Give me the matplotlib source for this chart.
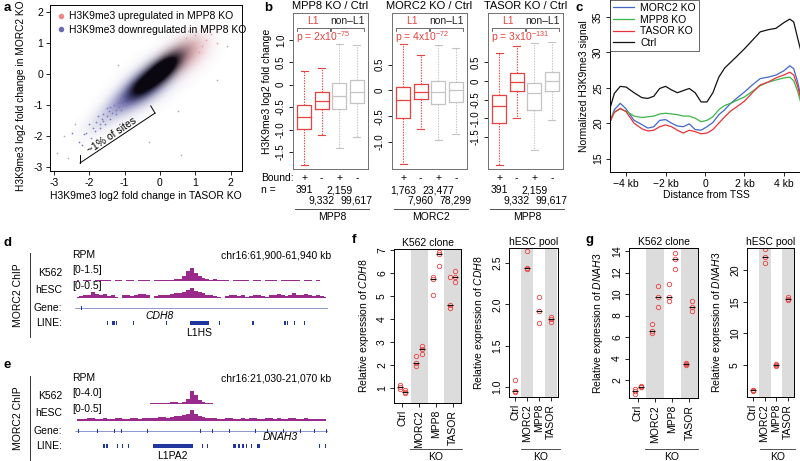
import numpy as np
import matplotlib.pyplot as plt
from matplotlib.lines import Line2D
from matplotlib.transforms import blended_transform_factory as blend

plt.rcParams['font.family'] = ['Liberation Sans', 'DejaVu Sans']
plt.rcParams['font.size'] = 7.5
plt.rcParams['axes.linewidth'] = 0.7
plt.rcParams['axes.unicode_minus'] = False
plt.rcParams['xtick.major.size'] = 3
plt.rcParams['ytick.major.size'] = 3
plt.rcParams['xtick.major.width'] = 0.6
plt.rcParams['ytick.major.width'] = 0.6
plt.rcParams['xtick.major.pad'] = 2
plt.rcParams['ytick.major.pad'] = 2
plt.rcParams['mathtext.fontset'] = 'custom'
plt.rcParams['mathtext.rm'] = 'Liberation Sans'
plt.rcParams['mathtext.it'] = 'Liberation Sans:italic'

RED = '#e8423f'
GRAY = '#c4c4c4'
PURPLE = '#9a2a8c'
NAVY = '#2236a0'

# ---------------- data ----------------
# a: density ridge (x, y, spread along, spread across, weight) and sparse outliers
core_nodes = [(0.0, 0.05, 0.55, 0.2, 1.8), (-0.55, -0.45, 0.3, 0.16, 0.7)]
down_nodes = [(-0.45, -0.4, 0.55, 0.28, 0.85), (-1.1, -0.95, 0.45, 0.22, 0.4),
              (-1.7, -1.55, 0.45, 0.22, 0.14), (0.1, 0.05, 0.9, 0.36, 0.18)]
up_nodes = [(0.65, 0.55, 0.45, 0.3, 0.45), (1.05, 0.9, 0.35, 0.28, 0.15)]
down_x = [-2.3, -2.1, -1.95, -1.8, -1.7, -1.6, -1.55, -1.45, -1.4, -1.3, -1.25, -1.2,
          -1.1, -1.05, -2.0, -1.85, -1.65, -1.5, -1.35, -1.15, -2.5, -2.2, -1.75, -0.95,
          -1.9, -1.6, -1.4, -1.25, -1.0, -2.15, -1.7, -1.5]
down_y = [-2.2, -1.9, -2.05, -1.55, -1.75, -1.3, -1.6, -1.2, -1.45, -1.0, -1.3, -0.95,
          -1.15, -0.8, -1.6, -1.85, -1.45, -1.1, -1.25, -1.05, -1.9, -2.3, -1.35, -1.0,
          -1.75, -1.5, -1.05, -1.15, -0.95, -1.95, -1.6, -1.35]
up_x = [0.9, 1.1, 1.3, 1.45, 0.75, 1.2, 1.0, 1.6]
up_y = [1.0, 0.7, 1.1, 1.3, 1.15, 0.9, 1.25, 1.0]
other_x = [-2.9, -2.6, -2.7, -2.4, -0.3, 0.5, 1.6, 1.9, 1.3, -1.2, 0.6, 0.8]
other_y = [-2.55, -2.7, -2.0, -1.6, -2.2, -1.2, -0.2, 0.9, 1.5, 0.3, -2.6, 1.4]

# b: boxplot summaries (4 groups: L1 bound, L1 unbound, non-L1 bound, non-L1 unbound)
b_titles = ['MPP8 KO / Ctrl', 'MORC2 KO / Ctrl', 'TASOR KO / Ctrl']
b_pvals = [r'p = 2x10$^{-75}$', r'p = 4x10$^{-72}$', r'p = 3x10$^{-131}$']
b_factor = ['MPP8', 'MORC2', 'MPP8']
b_counts = [[391, 9332, 2159, 99617], [1763, 7960, 23477, 78299], [391, 9332, 2159, 99617]]
b_med = [[-0.71, -0.36, -0.25, -0.16], [-0.19, -0.02, -0.02, 0.0], [-0.66, -0.02, -0.33, 0.0]]
b_q1 = [[-0.98, -0.55, -0.55, -0.40], [-0.54, -0.17, -0.27, -0.23], [-1.12, -0.26, -0.77, -0.26]]
b_q3 = [[-0.46, -0.17, 0.04, 0.11], [0.06, 0.13, 0.19, 0.17], [-0.37, 0.21, -0.05, 0.25]]
b_lo = [[-1.80, -1.12, -1.42, -1.16], [-1.42, -0.75, -0.96, -0.85], [-2.24, -1.0, -1.86, -1.05]]
b_hi = [[0.31, 0.38, 0.91, 0.89], [0.90, 0.69, 0.88, 0.83], [0.75, 0.93, 1.02, 1.03]]
b_ylim = [(-1.88, 1.6), (-1.52, 1.5), (-2.36, 1.82)]
b_yticks = [[-1.5, -1.0, -0.5, 0, 0.5, 1.0], [-1.0, -0.5, 0, 0.5], [-1.5, -1.0, -0.5, 0, 0.5]]

# c: metaprofile around TSS
c_kb = [-4.82, -4.6, -4.3, -4.0, -3.6, -3.2, -2.9, -2.6, -2.3, -2.0, -1.7, -1.4, -1.1, -0.8,
        -0.5, -0.2, 0.1, 0.4, 0.7, 1.0, 1.3, 1.6, 2.0, 2.4, 2.8, 3.2, 3.6, 4.0, 4.3, 4.5, 4.7, 4.9]
c_morc2 = [20.1, 21.9, 22.8, 22.0, 20.4, 19.8, 19.3, 19.5, 20.4, 20.5, 20.0, 19.6, 19.5, 19.9,
           19.1, 19.0, 19.5, 20.1, 21.2, 21.9, 22.8, 23.5, 24.4, 25.4, 26.3, 26.5, 26.8, 27.4,
           28.1, 27.7, 25.8, 23.3]
c_mpp8 = [20.5, 21.6, 22.0, 21.7, 21.0, 20.8, 20.9, 21.0, 21.3, 21.4, 21.3, 21.2, 21.0, 21.0,
          20.7, 20.2, 20.4, 20.9, 21.9, 22.5, 22.8, 23.2, 23.7, 24.5, 25.3, 25.8, 26.1, 26.4,
          26.5, 26.0, 24.5, 22.5]
c_tasor = [20.2, 21.5, 22.1, 21.6, 20.0, 19.2, 18.9, 19.0, 19.5, 19.75, 19.5, 19.0, 18.6, 19.0,
           18.8, 18.5, 18.6, 19.1, 20.0, 20.9, 21.7, 22.3, 23.1, 24.3, 25.4, 25.8, 26.4, 26.8,
           27.2, 26.8, 25.2, 23.0]
c_ctrl = [22.1, 24.2, 25.2, 25.1, 24.3, 23.6, 23.5, 23.8, 24.9, 25.2, 24.7, 24.3, 24.6, 24.9,
          24.3, 23.0, 23.0, 24.3, 26.5, 27.8, 28.6, 29.4, 30.5, 31.7, 32.9, 33.2, 33.4, 34.2,
          34.7, 34.3, 32.0, 29.8]

# d/e: ChIP tracks (percent of track range, 64 bins each)
d_k562 = [4, 3, 5, 4, 3, 4, 9, 6, 4, 3, 5, 4, 3, 4, 5, 3, 4, 6, 4, 3, 4, 5, 6, 5, 7, 12, 18, 35,
          80, 100, 60, 35, 20, 14, 9, 12, 7, 5, 4, 3, 5, 4, 6, 4, 3, 5, 4, 3, 6, 4, 5, 3, 4, 6,
          5, 4, 6, 3, 4, 5, 3, 4, 3, 3]
d_hesc = [12, 18, 22, 28, 50, 35, 25, 30, 18, 22, 12, 0, 22, 28, 18, 24, 30, 35, 22, 0, 18, 24,
          28, 22, 32, 38, 45, 50, 65, 85, 60, 48, 38, 28, 22, 18, 12, 0, 18, 22, 28, 18, 24, 12,
          18, 28, 22, 18, 12, 22, 28, 32, 22, 18, 22, 38, 28, 22, 32, 22, 18, 22, 18, 12]
e_k562 = [3, 2, 3, 2, 3, 2, 3, 2, 3, 2, 3, 2, 3, 2, 3, 2, 3, 2, 3, 5, 4, 6, 8, 10, 14, 12, 10,
          18, 40, 100, 70, 30, 12, 6, 4, 3, 2, 3, 2, 3, 2, 2, 3, 2, 3, 2, 3, 2, 3, 2, 3, 2, 3, 2,
          3, 2, 2, 3, 2, 3, 2, 3, 2, 2]
e_hesc = [15, 20, 18, 22, 25, 20, 18, 22, 20, 15, 22, 25, 18, 20, 22, 25, 20, 22, 28, 25, 22, 30,
          35, 28, 32, 38, 45, 50, 60, 90, 55, 40, 30, 25, 22, 28, 20, 18, 22, 25, 20, 18, 22, 20,
          25, 22, 18, 20, 22, 25, 20, 22, 18, 20, 25, 22, 20, 18, 22, 20, 18, 15, 18, 15]
d_range = (61900, 61940)
e_range = (21030, 21070)
d_exons = [61901.1]
e_exons = [21030.5, 21033.5, 21036.3, 21037.4, 21041.5, 21049.8, 21051.8, 21054.5, 21058.5,
           21060.4, 21062.9, 21065.6, 21067.9, 21069.8]
d_lines = [(61905.0, 0.15), (61905.9, 0.35), (61906.5, 0.2), (61909.1, 0.15), (61914.4, 0.15),
           (61918.2, 3.0), (61922.8, 0.15), (61928.0, 0.3), (61933.1, 0.3), (61933.5, 0.2),
           (61934.7, 0.15), (61936.2, 0.15)]
e_lines = [(21034.4, 0.3), (21034.9, 0.3), (21036.7, 0.15), (21037.5, 0.15), (21038.4, 0.15),
           (21042.3, 6.3), (21050.1, 0.15), (21050.8, 0.15), (21055.0, 0.5), (21055.7, 0.4),
           (21056.4, 0.3), (21057.0, 0.2), (21057.9, 0.15), (21058.8, 0.4), (21068.6, 0.15),
           (21069.6, 0.15)]

# f/g: qPCR relative expression
groups = ['Ctrl', 'MORC2', 'MPP8', 'TASOR']
f_k562_a = [[1.12, 1.04, 0.97], [2.39, 2.10, 1.96], [5.84, 5.73, 5.04], [5.84, 4.61, 4.47]]
f_k562_b = [[0.91, 0.84, 0.77], [2.83, 2.72, 2.48], [6.93, 6.83, 6.32], [6.10, 5.84, 5.62]]
f_hesc = [[1.08, 0.95, 0.94], [2.64, 2.44, 2.43], [2.09, 1.92, 1.77], [1.85, 1.82, 1.79]]
g_k562_a = [[1.16, 1.0, 0.7], [7.21, 6.59, 6.34], [10.93, 9.69, 9.35], [3.55, 3.49, 3.40]]
g_k562_b = [[1.47, 1.38, 1.33], [10.74, 9.69, 8.82], [13.78, 13.22, 12.30], [9.38, 8.82, 8.42]]
g_hesc = [[1.1, 1.0, 0.85], [23.3, 22.1, 21.1], [5.2, 5.0, 4.85], [15.7, 15.5, 15.3]]

# ---------------- layout helpers ----------------
W, H = 800, 461
fig = plt.figure(figsize=(8, 4.61), dpi=100)


def box(l, t, r, b):
    return [l / W, 1 - b / H, (r - l) / W, (b - t) / H]


def ftext(x, y, s, **kw):
    fig.text(x / W, 1 - y / H, s, **kw)


def fline(x0, y0, x1, y1, **kw):
    fig.add_artist(Line2D([x0 / W, x1 / W], [1 - y0 / H, 1 - y1 / H], **kw))


for letter, x, y in [('a', 4, 8), ('b', 264, 8), ('c', 576, 8), ('d', 4, 243),
                     ('e', 4, 365), ('f', 352, 240), ('g', 585, 240)]:
    ftext(x, y, letter, fontsize=9.5, fontweight='bold', va='center')

# ---------------- a ----------------
ax = fig.add_axes(box(50, 5, 242, 171))
xl, yl = (-3.11, 2.32), (-3.13, 2.23)
gx = np.linspace(*xl, 320)
gy = np.linspace(*yl, 320)
GX, GY = np.meshgrid(gx, gy)


def density(nodes):
    d = np.zeros_like(GX)
    c = s = np.sqrt(0.5)
    for x0, y0, sp, sq, w in nodes:
        dx, dy = GX - x0, GY - y0
        d += w * np.exp(-0.5 * (((dx * c + dy * s) / sp) ** 2 + ((-dx * s + dy * c) / sq) ** 2))
    return np.clip(d, 0, 1)


for nodes, rgb in [(down_nodes, (0.33, 0.33, 0.64)), (up_nodes, (0.9, 0.5, 0.52)),
                   (core_nodes, (0.04, 0.03, 0.07))]:
    img = np.zeros(GX.shape + (4,))
    img[..., :3] = rgb
    img[..., 3] = density(nodes)
    ax.imshow(img, extent=[*xl, *yl], origin='lower', aspect='auto', interpolation='bilinear')
ax.scatter(down_x, down_y, s=1.5, color='#7a7ac0', lw=0)
ax.scatter(up_x, up_y, s=1.5, color='#e9a0a0', lw=0)
ax.scatter(other_x, other_y, s=1.5, color='#b0b0b0', lw=0)
ax.plot([-2.26, -0.14], [-2.87, -1.26], color='k', lw=0.7)
ax.plot([-2.26, -2.26], [-2.87, -2.6], color='k', lw=0.7)
ax.plot([-0.14, -0.26], [-1.26, -1.03], color='k', lw=0.7)
ax.text(-1.35, -2.0, '~1% of sites', rotation=34, ha='center', va='center', fontsize=7.5)
ax.set_xlim(xl)
ax.set_ylim(yl)
ax.set_xticks(range(-3, 3))
ax.set_yticks(range(-3, 3))
ax.set_xlabel('H3K9me3 log2 fold change in TASOR KO', labelpad=2)
ftext(21, 96, 'H3K9me3 log2 fold change in MORC2 KO', rotation=90, ha='center', va='center',
      fontsize=7.3)
handles = [Line2D([], [], ls='', marker='o', ms=3, color='#f08a8a'),
           Line2D([], [], ls='', marker='o', ms=3, color='#6b6bb5')]
ax.legend(handles, ['H3K9me3 upregulated in MPP8 KO', 'H3K9me3 downregulated in MPP8 KO'],
          loc='upper left', frameon=False, handletextpad=0.2, handlelength=1.0,
          borderaxespad=0.2, labelspacing=0.35, fontsize=7.5)

# ---------------- b ----------------
b_pos = [(293, 368), (392, 467), (488, 563)]
box_cols = [RED, RED, GRAY, GRAY]
for k, (l, r) in enumerate(b_pos):
    ax = fig.add_axes(box(l, 13, r, 169))
    tr = blend(ax.transData, ax.transAxes)
    for i in range(4):
        st = dict(med=b_med[k][i], q1=b_q1[k][i], q3=b_q3[k][i],
                  whislo=b_lo[k][i], whishi=b_hi[k][i])
        c = box_cols[i]
        ax.bxp([st], positions=[i + 1], widths=0.8, capwidths=0.4, showfliers=False,
               boxprops=dict(color=c, lw=0.9), medianprops=dict(color=c, lw=0.9),
               whiskerprops=dict(color=c, lw=0.8, ls=(0, (1.2, 1.2))),
               capprops=dict(color=c, lw=0.8))
    ax.set_xlim(0.36, 4.64)
    ax.set_ylim(b_ylim[k])
    ax.set_yticks(b_yticks[k])
    ax.set_yticklabels([f'{v:.1f}' if v != 0 else '0' for v in b_yticks[k]],
                       rotation=90, va='center', fontsize=7)
    ax.set_xticks([])
    for sp in ax.spines.values():
        sp.set_color('#707070')
    ax.set_title(b_titles[k], fontsize=8, pad=3)
    # group brackets
    for (x0, x1), lab, col in [((0.6, 2.45), 'L1', RED), ((2.55, 4.4), 'non\u2013L1', '#222222')]:
        ax.plot([x0, x0, x1, x1], [0.885, 0.905, 0.905, 0.885], color='#555555', lw=0.6,
                transform=tr, clip_on=False)
        ax.text((x0 + x1) / 2, 0.948, lab, color=col, ha='center', va='center', transform=tr)
    ax.text(0.55, 0.845, b_pvals[k], color=RED, ha='left', va='center', transform=tr)
    for i in range(4):
        ax.text(i + 1, -0.058, '+' if i % 2 == 0 else '-', ha='center', va='center', transform=tr)
        ax.text(i + 1, -0.135 if i % 2 == 0 else -0.205, f'{b_counts[k][i]:,}',
                ha='center', va='center', transform=tr)
    ax.plot([0.5, 4.7], [-0.256, -0.256], color='#333333', lw=0.6, transform=tr, clip_on=False)
    ax.text(2.6, -0.31, b_factor[k], ha='center', va='center', transform=tr)
ftext(261, 178, 'Bound:', va='center')
ftext(261, 190, 'n =', va='center')
ftext(267, 91, 'H3K9me3 log2 fold change', rotation=90, ha='center', va='center')

# ---------------- c ----------------
ax = fig.add_axes(box(610, 0, 802, 172))
for ys, col, lab in [(c_morc2, '#4565c8', 'MORC2 KO'), (c_mpp8, '#3bb54a', 'MPP8 KO'),
                     (c_tasor, '#e8333a', 'TASOR KO'), (c_ctrl, '#111111', 'Ctrl')]:
    ax.plot(c_kb, ys, color=col, lw=0.9, label=lab)
ax.set_xlim(-4.82, 4.92)
ax.set_ylim(13.1, 37.4)
ax.set_xticks([-4, -2, 0, 2, 4])
ax.set_xticklabels(['\u22124 kb', '\u22122 kb', '0', '2 kb', '4 kb'])
ax.set_yticks([15, 20, 25, 30, 35])
ax.set_yticklabels(['15', '20', '25', '30', '35'], rotation=90, va='center')
ax.spines['top'].set_visible(False)
ax.spines['right'].set_visible(False)
ax.set_xlabel('Distance from TSS', labelpad=1)
ax.set_ylabel('Normalized H3K9me3 signal', labelpad=3)
leg = ax.legend(loc='upper left', fancybox=False, borderaxespad=0, fontsize=7.5,
                handlelength=2.0, labelspacing=0.15, borderpad=0.3, handletextpad=0.6)
leg.get_frame().set_edgecolor('#222222')
leg.get_frame().set_linewidth(0.6)


# ---------------- d / e ----------------
def track(top, bottom, vals, rng):
    ax = fig.add_axes(box(75, top, 328, bottom))
    step = (rng[1] - rng[0]) / len(vals)
    x = rng[0] + step * (np.arange(len(vals)) + 0.5)
    ax.fill_between(x, vals, step='mid', color=PURPLE, lw=0)
    ax.axhline(0, color='#c9a0c4', lw=0.5)
    ax.set_xlim(rng)
    ax.set_ylim(0, 100)
    ax.axis('off')


def gene_row(top, bottom, rng, exons, name, name_x, name_dy):
    ax = fig.add_axes(box(75, top, 328, bottom))
    ax.axhline(0, color=NAVY, lw=0.5, alpha=0.7)
    ax.broken_barh([(e - 0.08, 0.16) for e in exons], (-0.5, 1.0), color=NAVY, lw=0)
    ax.text(name_x, name_dy, name, style='italic', ha='center', va='center')
    ax.set_xlim(rng)
    ax.set_ylim(-1, 1)
    ax.axis('off')


def line_row(top, bottom, rng, elems, name):
    ax = fig.add_axes(box(75, top, 328, bottom))
    big = [e for e in elems if e[1] > 1]
    small = [e for e in elems if e[1] <= 1]
    ax.broken_barh(small, (-0.6, 1.2), color=NAVY, lw=0)
    ax.broken_barh(big, (-0.45, 0.9), color=NAVY, lw=0)
    ax.text(big[0][0] + big[0][1] / 2, -2.4, name, ha='center', va='center')
    ax.set_xlim(rng)
    ax.set_ylim(-1, 1)
    ax.axis('off')


for top, rng, k562, hesc, k_lab, exons, gname, gx_lab, glab_dy, lines, lname, chrom in [
        (253, d_range, d_k562, d_hesc, '[0-1.5]', d_exons, 'CDH8', 61913.4, -2.0, d_lines, 'L1HS',
         'chr16:61,900-61,940 kb'),
        (376, e_range, e_k562, e_hesc, '[0-4.0]', e_exons, 'DNAH3', 21062.4, -1.5, e_lines, 'L1PA2',
         'chr16:21,030-21,070 kb')]:
    o = top - 253
    ftext(72, 255 + o, 'RPM', va='center')
    ftext(331, 255 + o, chrom, ha='right', va='center')
    ftext(62, 273 + o, 'K562', ha='right', va='center')
    ftext(72, 270 + o, k_lab, va='center')
    ftext(62, 290 + o, 'hESC', ha='right', va='center')
    ftext(72, 286 + o, '[0-0.5]', va='center')
    ftext(62, 308 + o, 'Gene:', ha='right', va='center')
    ftext(62, 323 + o, 'LINE:', ha='right', va='center')
    ftext(18, 295 + o, 'MORC2 ChIP', rotation=90, ha='center', va='center')
    fline(30, 253 + o, 30, 337 + o, color='#333333', lw=0.7)
    track(268 + o, 281 + o, k562, rng)
    track(286 + o, 298 + o, hesc, rng)
    gene_row(304 + o, 312 + o, rng, exons, gname, gx_lab, glab_dy)
    line_row(319 + o, 327 + o, rng, lines, lname)


# ---------------- f / g ----------------
def expr_panel(rect, xlim, ylim, yticks, sets, title, ylab, ylab_x, ko_span):
    l, t, r, b = rect
    ax = fig.add_axes(box(l, t, r, b))
    ax.axvspan(1.5, 2.5, color='#dcdcdc', lw=0)
    ax.axvspan(3.5, 4.5, color='#dcdcdc', lw=0)
    offs = [0.0] if len(sets) == 1 else [-0.17, 0.17]
    for vals, off in zip(sets, offs):
        for i, v in enumerate(vals):
            ax.plot([i + 1 + off] * len(v), v, ls='', marker='o', ms=3.2, mfc='none',
                    mec=RED, mew=0.6)
            ax.plot(i + 1 + off, np.median(v), marker='_', ms=5, color='#111111', mew=0.8)
    ax.set_xlim(xlim)
    ax.set_ylim(ylim)
    ax.set_xticks(range(1, 5))
    ax.set_xticklabels(groups, rotation=90)
    ax.set_yticks(yticks)
    ax.set_yticklabels([f'{v:g}' if isinstance(v, int) else f'{v:.1f}' for v in yticks],
                       rotation=90, va='center')
    ax.set_title(title, fontsize=7.5, pad=2)
    ftext(ylab_x, (t + b) / 2, ylab, rotation=90, ha='center', va='center')
    tr = blend(ax.transData, ax.transAxes)
    yk = -(449 - b) / (b - t)
    ax.plot(ko_span, [yk, yk], color='#333333', lw=0.6, transform=tr, clip_on=False)
    ax.text(sum(ko_span) / 2, -(457 - b) / (b - t), 'KO', ha='center', va='center', transform=tr)
    return ax


expr_panel((394, 249, 461, 403), (0.5, 4.5), (0.35, 7.05), list(range(1, 8)),
           [f_k562_a, f_k562_b], 'K562 clone', r'Relative expression of $\it{CDH8}$', 364,
           (1.45, 4.55))
expr_panel((509, 248, 558, 397), (0.45, 4.6), (0.88, 2.68), [1.0, 1.5, 2.0, 2.5],
           [f_hesc], 'hESC pool', r'Relative expression of $\it{CDH8}$', 479, (1.5, 4.75))
expr_panel((629, 248, 698, 398), (0.5, 4.5), (0.33, 14.28), list(range(2, 15, 2)),
           [g_k562_a, g_k562_b], 'K562 clone', r'Relative expression of $\it{DNAH3}$', 598,
           (1.45, 4.5))
expr_panel((747, 248, 794, 397), (0.5, 4.5), (-0.05, 23.5), [5, 10, 15, 20],
           [g_hesc], 'hESC pool', r'Relative expression of $\it{DNAH3}$', 717, (1.6, 4.6))

fig.savefig('out.png', dpi=100)
